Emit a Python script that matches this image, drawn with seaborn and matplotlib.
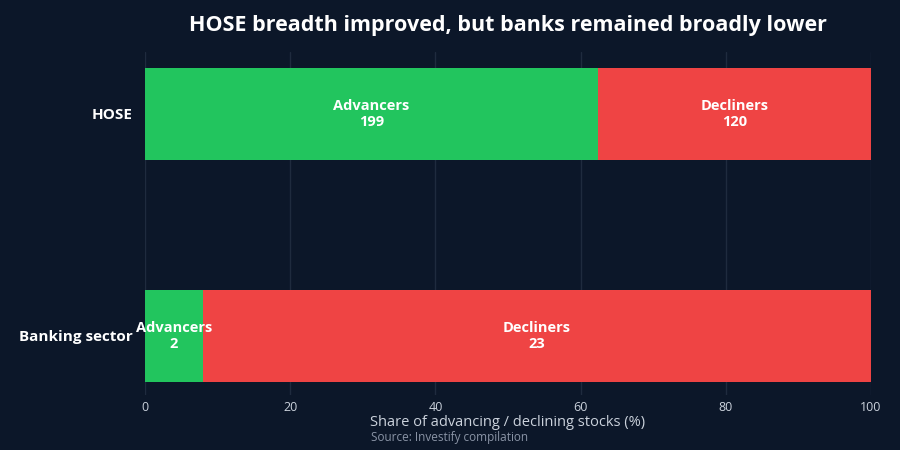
import pandas as pd
import matplotlib
matplotlib.use("Agg")
import matplotlib.pyplot as plt
import seaborn as sns

# data
categories = ["HOSE", "Banking sector"]
advancers = [199, 2]
decliners = [120, 23]

BG = "#0c1729"
GREEN = "#22c55e"
RED = "#ef4444"
GRID = "#1f2b3e"


def main() -> None:
    df = pd.DataFrame(
        {"Market": categories, "Advancers": advancers, "Decliners": decliners}
    )
    df["Total"] = df["Advancers"] + df["Decliners"]
    df["Adv share"] = df["Advancers"] / df["Total"] * 100
    df["Total share"] = 100.0

    sns.set_style("dark")
    plt.rcParams["font.family"] = ["Open Sans", "Noto Sans", "DejaVu Sans"]

    fig = plt.figure(figsize=(9, 4.5), dpi=100, facecolor=BG)
    ax = fig.add_axes([145 / 900, 1 - 395 / 450, 726 / 900, 343 / 450])
    ax.set_facecolor(BG)

    bar_h = 92 / 222
    # red bar covers whole 100%, green advancers drawn on top
    sns.barplot(data=df, x="Total share", y="Market", color=RED, width=bar_h,
                orient="h", saturation=1, linewidth=0, ax=ax, zorder=2)
    sns.barplot(data=df, x="Adv share", y="Market", color=GREEN, width=bar_h,
                orient="h", saturation=1, linewidth=0, ax=ax, zorder=3)

    for i, row in df.iterrows():
        adv = row["Adv share"]
        ax.text(adv / 2, i, f"Advancers\n{row['Advancers']}", ha="center",
                va="center", color="white", fontsize=10.5, fontweight="bold",
                linespacing=1.2, zorder=5)
        ax.text(adv + (100 - adv) / 2, i, f"Decliners\n{row['Decliners']}",
                ha="center", va="center", color="white", fontsize=10.5,
                fontweight="bold", linespacing=1.2, zorder=5)

    ax.set_xlim(0, 100)
    ax.set_ylim(1.266, -0.279)
    ax.set_xticks([0, 20, 40, 60, 80, 100])
    ax.grid(axis="x", color=GRID, linewidth=1, zorder=0)
    ax.grid(axis="y", visible=False)
    for s in ax.spines.values():
        s.set_visible(False)

    ax.tick_params(axis="x", colors="#cbd2dc", labelsize=9, length=0, pad=4)
    ax.tick_params(axis="y", length=0, pad=9)
    for lbl in ax.get_yticklabels():
        lbl.set_color("white")
        lbl.set_fontweight("bold")
        lbl.set_fontsize(11)

    ax.set_ylabel("")
    ax.set_xlabel("Share of advancing / declining stocks (%)", color="#cbd2dc",
                  fontsize=10.5, labelpad=1)

    fig.text(508 / 900, 1 - 26 / 450,
             "HOSE breadth improved, but banks remained broadly lower",
             ha="center", va="center", color="white", fontsize=15.5,
             fontweight="bold")
    fig.text(371 / 900, 1 - 437 / 450, "Source: Investify compilation",
             ha="left", va="center", color="#8a94a6", fontsize=8.5)

    fig.savefig("out.png", dpi=100, facecolor=BG)
    plt.close(fig)


if __name__ == "__main__":
    main()
